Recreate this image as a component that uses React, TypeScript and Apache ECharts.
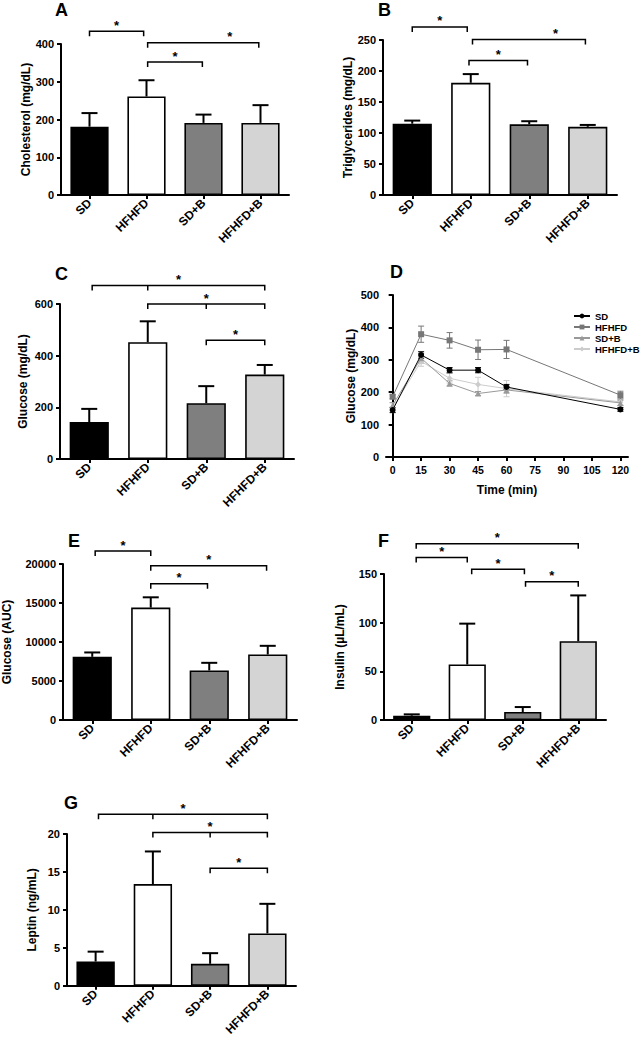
import React, { useEffect, useRef } from "react";
import * as echarts from "echarts";

const FONT = '"Liberation Sans", Arial, Helvetica, sans-serif';

// ---------- data ----------
const categories = ["SD", "HFHFD", "SD+B", "HFHFD+B"];

const cholMean = [181, 261, 191, 191];
const cholSem = [36, 43, 22, 47];
const trigMean = [115, 181, 114, 110];
const trigSem = [5, 14, 5, 3];
const glucMean = [143, 452, 216, 327];
const glucSem = [51, 81, 66, 37];
const aucMean = [8100, 14410, 6350, 8400];
const aucSem = [560, 1320, 980, 1110];
const insMean = [4.4, 57, 8.2, 81];
const insSem = [1.4, 42, 5.1, 47];
const lepMean = [3.2, 13.4, 2.9, 6.9];
const lepSem = [1.3, 4.3, 1.4, 3.9];

// OGTT time course (panel D)
const times = [0, 15, 30, 45, 60, 120];
const timeTicks = [0, 15, 30, 45, 60, 75, 90, 105, 120];
const ogttSD = [145, 315, 268, 268, 216, 147];
const ogttSDErr = [8, 10, 8, 8, 8, 6];
const ogttHF = [186, 379, 360, 331, 332, 191];
const ogttHFErr = [6, 25, 24, 30, 28, 12];
const ogttSDB = [160, 305, 227, 196, 207, 167];
const ogttSDBErr = [8, 15, 8, 6, 10, 8];
const ogttHFB = [152, 295, 243, 224, 211, 170];
const ogttHFBErr = [15, 15, 15, 22, 25, 10];

// significance brackets: from/to (category index), optional mid, y (data units), optional star position
type Bracket = { from: number; to: number; y: number; mid?: number; star?: number };
const cholBrackets: Bracket[] = [
  { from: 0, to: 0.95, y: 434 },
  { from: 1.02, to: 1.98, y: 352 },
  { from: 1.02, to: 2.97, y: 403, star: 2.46 },
];
const trigBrackets: Bracket[] = [
  { from: 0, to: 0.94, y: 271 },
  { from: 0.97, to: 1.97, y: 217 },
  { from: 1.03, to: 2.96, y: 251, star: 2.45 },
];
const glucBrackets: Bracket[] = [
  { from: 0.05, to: 3, mid: 1, y: 672 },
  { from: 1, to: 3, mid: 2, y: 600 },
  { from: 2, to: 3, y: 460 },
];
const aucBrackets: Bracket[] = [
  { from: 0.05, to: 1, y: 21660 },
  { from: 1, to: 1.97, y: 17480 },
  { from: 1, to: 2.98, y: 19780 },
];
const insBrackets: Bracket[] = [
  { from: 0.08, to: 3, y: 181 },
  { from: 0.08, to: 1.0, y: 167 },
  { from: 1.08, to: 2.03, y: 155 },
  { from: 2.05, to: 3.0, y: 142 },
];
const lepBrackets: Bracket[] = [
  { from: 0.05, to: 3, mid: 1, y: 22.6 },
  { from: 1, to: 3, mid: 2, y: 20.2 },
  { from: 2, to: 3, y: 15.5 },
];

const BAR_COLORS = ["#000000", "#ffffff", "#7f7f7f", "#d4d4d4"];

// ---------- helpers ----------
const axisLineStyle = { show: true, lineStyle: { color: "#000", width: 2 } };
const axisTickStyle = { show: true, length: 4, lineStyle: { color: "#000", width: 2 } };
const plainNum = (v: number) => String(v);

function bracketRender(list: Bracket[]) {
  return (params: any, api: any) => {
    const b = list[params.dataIndex];
    const c0 = api.coord([0, b.y]);
    const c1 = api.coord([1, b.y]);
    const step = c1[0] - c0[0];
    const px = (v: number) => c0[0] + v * step;
    const y = c0[1];
    const x1 = px(b.from);
    const x2 = px(b.to);
    const tick = 5;
    const children: any[] = [
      {
        type: "polyline",
        shape: { points: [[x1, y + tick], [x1, y], [x2, y], [x2, y + tick]] },
        style: { stroke: "#000", lineWidth: 1.5, fill: null },
      },
    ];
    if (b.mid !== undefined) {
      const xm = px(b.mid);
      children.push({
        type: "line",
        shape: { x1: xm, y1: y, x2: xm, y2: y + tick },
        style: { stroke: "#000", lineWidth: 1.5 },
      });
    }
    const sx = px(b.star !== undefined ? b.star : (b.from + b.to) / 2);
    children.push({
      type: "text",
      x: sx,
      y: y - 6,
      style: {
        text: "*",
        fontSize: 13,
        fontWeight: "bold",
        fontFamily: FONT,
        fill: "#000",
        align: "center",
        verticalAlign: "middle",
      },
    });
    return { type: "group", children };
  };
}

function barErrRender(params: any, api: any) {
  const x = api.value(0);
  const m = api.value(1);
  const h = api.value(2);
  const p0 = api.coord([x, m]);
  const p1 = api.coord([x, h]);
  return {
    type: "group",
    children: [
      { type: "line", shape: { x1: p0[0], y1: p0[1], x2: p1[0], y2: p1[1] }, style: { stroke: "#000", lineWidth: 2 } },
      { type: "line", shape: { x1: p1[0] - 8, y1: p1[1], x2: p1[0] + 8, y2: p1[1] }, style: { stroke: "#000", lineWidth: 2 } },
    ],
  };
}

function lineErrRender(color: string) {
  return (params: any, api: any) => {
    const x = api.value(0);
    const lo = api.coord([x, api.value(1)]);
    const hi = api.coord([x, api.value(2)]);
    const st = { stroke: color, lineWidth: 1 };
    return {
      type: "group",
      children: [
        { type: "line", shape: { x1: lo[0], y1: lo[1], x2: hi[0], y2: hi[1] }, style: st },
        { type: "line", shape: { x1: lo[0] - 3, y1: lo[1], x2: lo[0] + 3, y2: lo[1] }, style: st },
        { type: "line", shape: { x1: hi[0] - 3, y1: hi[1], x2: hi[0] + 3, y2: hi[1] }, style: st },
      ],
    };
  };
}

type BarPanel = {
  grid: { left: number; top: number; width: number; height: number };
  mean: number[];
  sem: number[];
  brackets: Bracket[];
  max: number;
  interval: number;
  yName: string;
  nameGap: number;
};

const barPanels: BarPanel[] = [
  { grid: { left: 61, top: 44, width: 228, height: 151 }, mean: cholMean, sem: cholSem, brackets: cholBrackets, max: 400, interval: 100, yName: "Cholesterol (mg/dL)", nameGap: 28 },
  { grid: { left: 383, top: 40, width: 234, height: 155 }, mean: trigMean, sem: trigSem, brackets: trigBrackets, max: 250, interval: 50, yName: "Triglycerides (mg/dL)", nameGap: 29 },
  { grid: { left: 60, top: 304, width: 234, height: 155 }, mean: glucMean, sem: glucSem, brackets: glucBrackets, max: 600, interval: 200, yName: "Glucose (mg/dL)", nameGap: 31 },
  { grid: { left: 63, top: 564, width: 234, height: 156 }, mean: aucMean, sem: aucSem, brackets: aucBrackets, max: 20000, interval: 5000, yName: "Glucose (AUC)", nameGap: 50 },
  { grid: { left: 384, top: 574, width: 222, height: 146 }, mean: insMean, sem: insSem, brackets: insBrackets, max: 150, interval: 50, yName: "Insulin (\u00b5L/mL)", nameGap: 38 },
  { grid: { left: 67, top: 834, width: 229, height: 152 }, mean: lepMean, sem: lepSem, brackets: lepBrackets, max: 20, interval: 5, yName: "Leptin (ng/mL)", nameGap: 29 },
];

const dGrid = { left: 386, top: 295, width: 242, height: 162 };

const letters = [
  { t: "A", left: 55, top: 1 },
  { t: "B", left: 378, top: 1 },
  { t: "C", left: 55, top: 265 },
  { t: "D", left: 390, top: 263 },
  { t: "E", left: 68, top: 532 },
  { t: "F", left: 378, top: 532 },
  { t: "G", left: 64, top: 794 },
];

function buildOption() {
  const grid: any[] = [];
  const xAxis: any[] = [];
  const yAxis: any[] = [];
  const series: any[] = [];

  barPanels.forEach((p, i) => {
    grid.push({ ...p.grid, containLabel: false });
    xAxis.push({
      type: "category",
      gridIndex: i,
      data: categories,
      boundaryGap: true,
      axisLine: axisLineStyle,
      axisTick: { ...axisTickStyle, alignWithLabel: true },
      axisLabel: {
        rotate: 45,
        interval: 0,
        margin: 6,
        fontSize: 12,
        fontWeight: "bold",
        fontFamily: FONT,
        color: "#000",
      },
      splitLine: { show: false },
    });
    yAxis.push({
      type: "value",
      gridIndex: i,
      min: 0,
      max: p.max,
      interval: p.interval,
      name: p.yName,
      nameLocation: "middle",
      nameRotate: 90,
      nameGap: p.nameGap,
      nameTextStyle: { fontSize: 12, fontWeight: "bold", fontFamily: FONT, color: "#000" },
      axisLine: axisLineStyle,
      axisTick: axisTickStyle,
      axisLabel: { margin: 7, fontSize: 11, fontWeight: "bold", fontFamily: FONT, color: "#000", formatter: plainNum },
      splitLine: { show: false },
    });
    series.push({
      type: "bar",
      name: "bar" + i,
      xAxisIndex: i,
      yAxisIndex: i,
      barCategoryGap: "33%",
      data: p.mean.map((v, k) => ({ value: v, itemStyle: { color: BAR_COLORS[k] } })),
      itemStyle: { borderColor: "#000", borderWidth: 1.6 },
      z: 2,
    });
    series.push({
      type: "custom",
      name: "err" + i,
      xAxisIndex: i,
      yAxisIndex: i,
      renderItem: barErrRender,
      encode: { x: 0, y: [1, 2] },
      data: p.mean.map((v, k) => [k, v, v + p.sem[k]]),
      z: 3,
    });
    series.push({
      type: "custom",
      name: "sig" + i,
      xAxisIndex: i,
      yAxisIndex: i,
      renderItem: bracketRender(p.brackets),
      encode: { x: 0, y: 1 },
      data: p.brackets.map((b) => [0, Math.min(b.y, p.max)]),
      clip: false,
      z: 4,
    });
  });

  // Panel D
  const di = barPanels.length;
  grid.push({ ...dGrid, containLabel: false });
  xAxis.push({
    type: "value",
    gridIndex: di,
    min: -3.5,
    max: 124,
    name: "Time (min)",
    nameLocation: "middle",
    nameGap: 27,
    nameTextStyle: { fontSize: 12, fontWeight: "bold", fontFamily: FONT, color: "#000" },
    axisLine: axisLineStyle,
    axisTick: { ...axisTickStyle, customValues: timeTicks },
    axisLabel: { customValues: timeTicks, margin: 7, fontSize: 10.5, fontWeight: "bold", fontFamily: FONT, color: "#000", formatter: plainNum },
    splitLine: { show: false },
  });
  yAxis.push({
    type: "value",
    gridIndex: di,
    min: 0,
    max: 500,
    interval: 100,
    name: "Glucose (mg/dL)",
    nameLocation: "middle",
    nameRotate: 90,
    nameGap: 29,
    nameTextStyle: { fontSize: 12, fontWeight: "bold", fontFamily: FONT, color: "#000" },
    axisLine: axisLineStyle,
    axisTick: axisTickStyle,
    axisLabel: { margin: 7, fontSize: 11, fontWeight: "bold", fontFamily: FONT, color: "#000", formatter: plainNum },
    splitLine: { show: false },
  });

  const lines = [
    { name: "SD", mean: ogttSD, err: ogttSDErr, color: "#000000", symbol: "circle" },
    { name: "HFHFD", mean: ogttHF, err: ogttHFErr, color: "#777777", symbol: "rect" },
    { name: "SD+B", mean: ogttSDB, err: ogttSDBErr, color: "#999999", symbol: "triangle" },
    { name: "HFHFD+B", mean: ogttHFB, err: ogttHFBErr, color: "#cccccc", symbol: "diamond" },
  ];
  [...lines].reverse().forEach((l, k) => {
    series.push({
      type: "custom",
      name: l.name + "-err",
      xAxisIndex: di,
      yAxisIndex: di,
      renderItem: lineErrRender(l.color),
      encode: { x: 0, y: [1, 2] },
      data: times.map((t, i) => [t, l.mean[i] - l.err[i], l.mean[i] + l.err[i]]),
      z: 2 + k,
    });
  });
  lines.forEach((l, k) => {
    series.push({
      type: "line",
      name: l.name,
      xAxisIndex: di,
      yAxisIndex: di,
      data: times.map((t, i) => [t, l.mean[i]]),
      symbol: l.symbol,
      symbolSize: 6,
      showSymbol: true,
      lineStyle: { color: l.color, width: 1 },
      itemStyle: { color: l.color },
      z: 10 - k,
    });
  });

  return {
    animation: false,
    backgroundColor: "#ffffff",
    textStyle: { fontFamily: FONT },
    title: letters.map((l) => ({
      text: l.t,
      left: l.left,
      top: l.top,
      padding: 0,
      textStyle: { fontSize: 18, fontWeight: "bold", fontFamily: FONT, color: "#000" },
    })),
    legend: {
      data: lines.map((l) => l.name),
      orient: "vertical",
      left: 573,
      top: 311,
      itemWidth: 16,
      itemHeight: 6,
      itemGap: 1,
      padding: 0,
      textStyle: { fontSize: 9.5, fontWeight: "bold", fontFamily: FONT, color: "#000" },
      selectedMode: false,
    },
    grid,
    xAxis,
    yAxis,
    series,
  };
}

export default function App() {
  const ref = useRef<HTMLDivElement>(null);
  useEffect(() => {
    if (!ref.current) return;
    const chart = echarts.init(ref.current, undefined, { renderer: "svg" });
    chart.setOption(buildOption() as any);
    return () => chart.dispose();
  }, []);
  return (
    <div
      ref={ref}
      style={{ position: "absolute", left: 0, top: 0, width: 640, height: 1038, background: "#fff" }}
    />
  );
}
